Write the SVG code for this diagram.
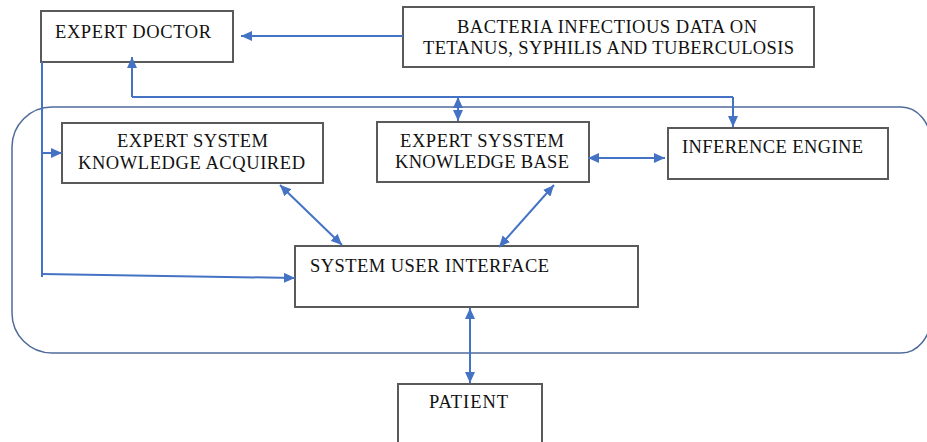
<svg xmlns="http://www.w3.org/2000/svg" width="927" height="442" viewBox="0 0 927 442">
<style>
.box{fill:#fff;stroke:#5a5a5a;stroke-width:2}
.t{font-family:"Liberation Serif","Times New Roman",serif;font-size:18.5px;fill:#111}
.c{fill:none;stroke:#4472C4;stroke-width:2}
.a{fill:none;stroke:#4472C4;stroke-width:2;marker-end:url(#ah)}
.d{fill:none;stroke:#4472C4;stroke-width:2;marker-start:url(#ah);marker-end:url(#ah)}
</style>
<defs>
<marker id="ah" markerUnits="userSpaceOnUse" markerWidth="11" markerHeight="10" refX="11" refY="5" orient="auto-start-reverse">
<path d="M0,0 L11,5 L0,10 z" fill="#4472C4"/>
</marker>
</defs>
<rect width="927" height="442" fill="#fff"/>
<g id="container">
<path d="M52 107 H901 A30 36 0 0 1 931 143 V317 A30 36 0 0 1 901 353 H52 A40 40 0 0 1 12 313 V147 A40 40 0 0 1 52 107 Z" fill="none" stroke="#4f6b9a" stroke-width="1.5"/>
</g>
<g id="expert-doctor">
<rect class="box" x="41" y="11" width="192" height="51"/>
<text class="t" x="55" y="38" textLength="156" lengthAdjust="spacing">EXPERT DOCTOR</text>
</g>
<g id="bacteria-data">
<rect class="box" x="403" y="7" width="411" height="60"/>
<text class="t" x="457" y="33" textLength="300" lengthAdjust="spacing">BACTERIA INFECTIOUS DATA ON</text>
<text class="t" x="423" y="54" textLength="371" lengthAdjust="spacing">TETANUS, SYPHILIS AND TUBERCULOSIS</text>
</g>
<g id="knowledge-acquired">
<rect class="box" x="62" y="123" width="261" height="60"/>
<text class="t" x="117" y="147" textLength="151" lengthAdjust="spacing">EXPERT SYSTEM</text>
<text class="t" x="78" y="169" textLength="227" lengthAdjust="spacing">KNOWLEDGE ACQUIRED</text>
</g>
<g id="knowledge-base">
<rect class="box" x="377" y="122" width="212" height="60"/>
<text class="t" x="400" y="147" textLength="164" lengthAdjust="spacing">EXPERT SYSSTEM</text>
<text class="t" x="395" y="168" textLength="174" lengthAdjust="spacing">KNOWLEDGE BASE</text>
</g>
<g id="inference-engine">
<rect class="box" x="668" y="128" width="220" height="51"/>
<text class="t" x="682" y="153" textLength="181" lengthAdjust="spacing">INFERENCE ENGINE</text>
</g>
<g id="user-interface">
<rect class="box" x="295" y="246" width="343" height="61"/>
<text class="t" x="310" y="272" textLength="239" lengthAdjust="spacing">SYSTEM USER INTERFACE</text>
</g>
<g id="patient">
<rect class="box" x="398" y="384" width="144" height="70"/>
<text class="t" x="429" y="408" textLength="79" lengthAdjust="spacing">PATIENT</text>
</g>
<g id="connectors">
<path class="a" d="M403 36 H241"/>
<path class="a" d="M132 97 V57"/>
<path class="c" d="M132 97 H733"/>
<path class="a" d="M733 97 V127"/>
<path class="d" d="M458 97 V121"/>
<path class="c" d="M42 62 V277"/>
<path class="a" d="M42 153 H62"/>
<path class="a" d="M42 274 L295 278"/>
<path class="d" d="M588 158 H665"/>
<path class="d" d="M280 185 L342 245"/>
<path class="d" d="M554 185 L499 247"/>
<path class="d" d="M470 308 V383"/>
</g>
</svg>
